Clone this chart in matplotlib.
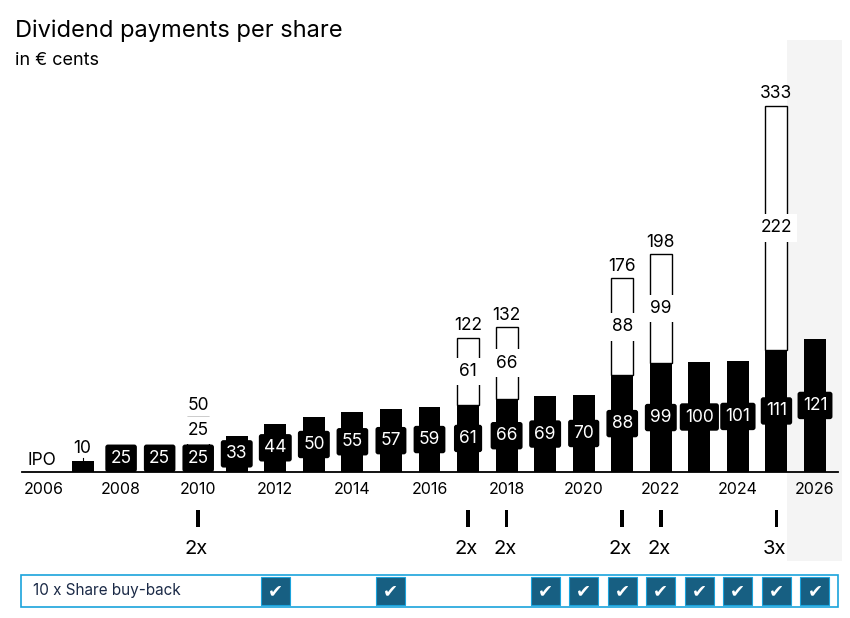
import numpy as np
import matplotlib
matplotlib.use("Agg")
import matplotlib.pyplot as plt
from matplotlib.patches import Rectangle

plt.rcParams['font.family'] = ['Inter', 'DejaVu Sans']

# dividend data (euro cents)
years = [2007, 2008, 2009, 2010, 2011, 2012, 2013, 2014, 2015, 2016,
         2017, 2018, 2019, 2020, 2021, 2022, 2023, 2024, 2025, 2026]
regular = [10, 25, 25, 25, 33, 44, 50, 55, 57, 59,
           61, 66, 69, 70, 88, 99, 100, 101, 111, 121]

# special dividends on top of the regular ones
special_years = [2010, 2017, 2018, 2021, 2022, 2025]
special = [25, 61, 66, 88, 99, 222]
special_total = [50, 122, 132, 176, 198, 333]
multiplier = ["2x", "2x", "2x", "2x", "2x", "3x"]

# years with a share buy-back
buyback_years = [2012, 2015, 2019, 2020, 2021, 2022, 2023, 2024, 2025, 2026]
buyback_label = "10 x Share buy-back"

tick_years = list(range(2006, 2027, 2))

# layout: 1 year = 38.55 px, 1 cent = 1.1 px, baseline at y=472 px
W, H = 850, 618
px_year = 38.55
px_cent = 1.1
x0 = 2006 + (22 - 44) / px_year
x1 = 2006 + (838 - 44) / px_year
ytop = (472 - 40) / px_cent
lab_fs = 12.5

fig = plt.figure(figsize=(W / 100, H / 100), dpi=100)
ax = fig.add_axes([22 / W, (H - 472) / H, (838 - 22) / W, 432 / H])
ax.set_xlim(x0, x1)
ax.set_ylim(0, ytop)
for s in ['top', 'right', 'left']:
    ax.spines[s].set_visible(False)
ax.spines['bottom'].set_linewidth(1.3)
ax.set_yticks([])
ax.set_xticks(tick_years)
ax.set_xticklabels([str(y) for y in tick_years], fontsize=11.5)
ax.tick_params(axis='x', length=0, pad=7)


def py(p):
    # pixel row -> data y
    return (472 - p) / px_cent


# forecast column background
ax.add_patch(Rectangle((2006 + (787 - 44) / px_year, py(561)),
                       55 / px_year, py(40) - py(561),
                       facecolor='#f4f4f4', edgecolor='none',
                       clip_on=False, zorder=0))

bw = 0.57
ax.bar(years, regular, width=bw, color='black', zorder=2)
ax.bar(special_years, special, width=bw,
       bottom=[regular[years.index(y)] for y in special_years],
       facecolor='white', edgecolor='black', linewidth=1, zorder=2)

# regular labels
for y, v in zip(years, regular):
    if y == 2007:
        ax.plot([y, y], [v, v + 3], color='black', lw=0.8, zorder=3)
        ax.text(y, v + 4, str(v), ha='center', va='bottom', fontsize=lab_fs)
        continue
    ax.text(y, v / 2, str(v), ha='center', va='center', fontsize=lab_fs,
            color='white', zorder=4,
            bbox=dict(boxstyle='round,pad=0.3,rounding_size=0.15',
                      facecolor='black', edgecolor='none'))

# special labels
for y, s, t in zip(special_years, special, special_total):
    base = regular[years.index(y)]
    ax.text(y, base + s / 2, str(s), ha='center', va='center',
            fontsize=lab_fs, zorder=4,
            bbox=dict(boxstyle='square,pad=0.3', facecolor='white',
                      edgecolor='none'))
    ax.text(y, t + 3, str(t), ha='center', va='bottom', fontsize=lab_fs)

ax.text(2005.95, 3, "IPO", ha='center', va='bottom', fontsize=lab_fs)

# special dividend markers below the axis
for y, m in zip(special_years, multiplier):
    ax.add_patch(Rectangle((y - 1.8 / px_year, py(527)), 3.6 / px_year,
                           py(510) - py(527), facecolor='black',
                           edgecolor='none', clip_on=False))
    ax.text(y - 0.05, py(549), m, ha='center', va='center', fontsize=14.5)

# buy-back row
ax.add_patch(Rectangle((2006 + (21 - 44) / px_year, py(607)),
                       (838 - 21) / px_year, py(575) - py(607),
                       facecolor='white', edgecolor='#1aa3dc', lw=1.2,
                       clip_on=False, zorder=1))
ax.text(2006 + (33 - 44) / px_year, py(591), buyback_label, ha='left',
        va='center', fontsize=11, color='#1b2a47')
for y in buyback_years:
    ax.add_patch(Rectangle((y - 14.5 / px_year, py(605)), 29 / px_year,
                           py(577) - py(605), facecolor='#175f82',
                           edgecolor='#1aa3dc', lw=0.8, clip_on=False,
                           zorder=2))
    ax.text(y, py(591), "\u2714", ha='center', va='center', fontsize=13,
            color='white', family='DejaVu Sans', zorder=3)

fig.text(15 / W, 1 - 37 / H, "Dividend payments per share", fontsize=17,
         va='baseline', ha='left')
fig.text(15 / W, 1 - 65 / H, "in \u20ac cents", fontsize=13,
         va='baseline', ha='left')

fig.savefig("out.png", dpi=100)
